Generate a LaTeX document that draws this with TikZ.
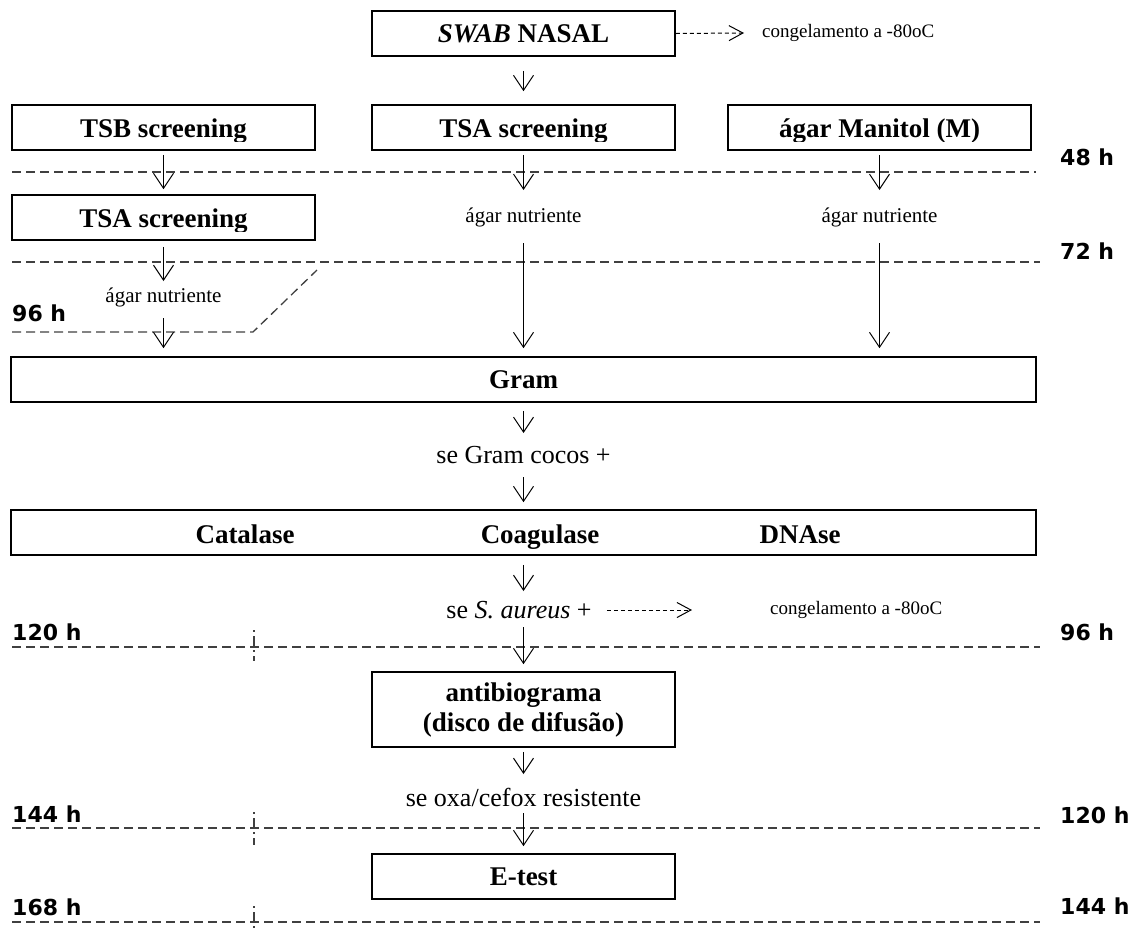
\documentclass[tikz,border=0pt]{standalone}
\usepackage{fontspec}
\setmainfont{Liberation Serif}
\newfontfamily\hfont{DejaVu Sans}
\usetikzlibrary{arrows.meta}
\begin{document}
\begin{tikzpicture}[x=1pt,y=-1pt,
  box/.style={draw=black, line width=1.6pt, inner sep=0pt, minimum width=303pt, minimum height=45pt},
  widebox/.style={draw=black, line width=1.6pt, inner sep=0pt, minimum width=1025pt, minimum height=45pt},
  btxt/.style={font=\fontsize{27}{31}\selectfont\bfseries, inner sep=0pt},
  stxt/.style={font=\fontsize{26}{30}\selectfont, inner sep=0pt},
  atxt/.style={font=\fontsize{21}{24}\selectfont, inner sep=0pt},
  ctxt/.style={font=\fontsize{19}{22}\selectfont, inner sep=0pt, anchor=west},
  hl/.style={font=\hfont\bfseries\fontsize{22}{24}\selectfont, inner sep=0pt, anchor=west},
  arr/.style={line width=1pt, -{Straight Barb[length=15pt,width=20pt,line width=1pt]}},
  darr/.style={line width=1pt, dash pattern=on 4pt off 3pt, -{Straight Barb[length=14pt,width=15pt,line width=1pt]}},
  tline/.style={draw=black!75, line width=1.3pt, dash pattern=on 9pt off 5pt},
  tick/.style={draw=black!75, line width=1.3pt, dash pattern=on 2pt off 4pt on 11pt off 3pt},
]
\useasboundingbox (0,0) rectangle (1145,930);

% top
\node[box, btxt] (swab) at (523.5,33.5) {\textit{SWAB} NASAL};
\node[ctxt] (cong1) at (762,33) {congelamento a -80oC};

% row 1
\node[box] (tsb) at (163.5,127.5) {};
\node[box] (tsa) at (523.5,127.5) {};
\node[box] (man) at (879.5,127.5) {};
\begin{scope}
  \clip (0,100) rectangle (1145,141);
  \node[btxt, anchor=base] (tsbt) at (163.5,137) {TSB screening};
  \node[btxt, anchor=base] (tsat) at (523.5,137) {TSA screening};
  \node[btxt, anchor=base] (mant) at (879.5,137) {ágar Manitol (M)};
\end{scope}

% row 2
\node[box] (tsa2) at (163.5,217.5) {};
\begin{scope}
  \clip (0,190) rectangle (400,231);
  \node[btxt, anchor=base] (tsa2t) at (163.5,227) {TSA screening};
\end{scope}
\node[atxt] (an2) at (523.5,217) {ágar nutriente};
\node[atxt] (an3) at (879.5,217) {ágar nutriente};
\node[atxt] (an1) at (163.5,297) {ágar nutriente};

% Gram etc
\node[widebox, btxt] (gram) at (523.5,379.5) {Gram};
\node[stxt] (cocos) at (523.5,455) {se Gram cocos +};
\node[widebox] (tests) at (523.5,532.5) {};
\node[btxt, anchor=base] (cat) at (245,543) {Catalase};
\node[btxt, anchor=base] (coa) at (540,543) {Coagulase};
\node[btxt, anchor=base] (dna) at (800,543) {DNAse};
\node[stxt] (sa) at (519,610) {se \textit{S. aureus} +};
\node[ctxt] (cong2) at (770,610) {congelamento a -80oC};
\node[box, btxt, minimum height=75pt, align=center] (anti) at (523.5,709.5) {antibiograma\\[-1pt](disco de difusão)};
\node[stxt] (oxa) at (523.5,797) {se oxa/cefox resistente};
\node[box, btxt] (etest) at (523.5,876.5) {E-test};

% hour labels
\node[hl] (h48) at (1060,157) {48 h};
\node[hl] (h72) at (1060,251) {72 h};
\node[hl] (h96l) at (12,313) {96 h};
\node[hl] (h120l) at (12,632) {120 h};
\node[hl] (h96r) at (1060,632) {96 h};
\node[hl] (h144l) at (12,814) {144 h};
\node[hl] (h120r) at (1060,815) {120 h};
\node[hl] (h168l) at (12,907) {168 h};
\node[hl] (h144r) at (1060,906) {144 h};

% time lines
\draw[tline] (12,172) -- (1036,172);
\draw[tline] (12,262) -- (1040,262);
\draw[tline] (12,332) -- (253,332) -- (317,270);
\draw[tline] (12,647) -- (1040,647);
\draw[tline] (12,828) -- (1040,828);
\draw[tline] (12,922) -- (1040,922);
\draw[tick] (254,630) -- (254,661);
\draw[tick] (254,812) -- (254,845);
\draw[tick] (254,906) -- (254,935);

% arrows
\draw[darr] (swab.east) -- ([xshift=-18pt]cong1.west);
\draw[darr] ([xshift=15pt]sa.east) -- ([xshift=-78pt]cong2.west);
\draw[arr] ([yshift=-14pt]swab.south) -- ([yshift=13pt]tsa.north);
\draw[arr] ([yshift=-4pt]tsb.south) -- ([yshift=5pt]tsa2.north);
\draw[arr] ([yshift=-4pt]tsa.south) -- (an2 |- 0,190);
\draw[arr] ([yshift=-4pt]man.south) -- (an3 |- 0,190);
\draw[arr] ([yshift=-6pt]tsa2.south) -- (an1 |- 0,281);
\draw[arr] (an2 |- 0,243) -- ([yshift=8pt]gram.north -| an2);
\draw[arr] (an3 |- 0,243) -- ([yshift=8pt]gram.north -| an3);
\draw[arr] (an1 |- 0,318) -- ([yshift=8pt]gram.north -| an1);
\draw[arr] ([yshift=-8pt]gram.south) -- (cocos |- 0,433);
\draw[arr] (cocos |- 0,477) -- ([yshift=7pt]tests.north);
\draw[arr] ([yshift=-9pt]tests.south) -- (tests |- 0,591);
\draw[arr] (tests |- 0,627) -- ([yshift=7pt]anti.north);
\draw[arr] ([yshift=-4pt]anti.south) -- (oxa |- 0,774);
\draw[arr] (oxa |- 0,813) -- ([yshift=7pt]etest.north);
\end{tikzpicture}
\end{document}
